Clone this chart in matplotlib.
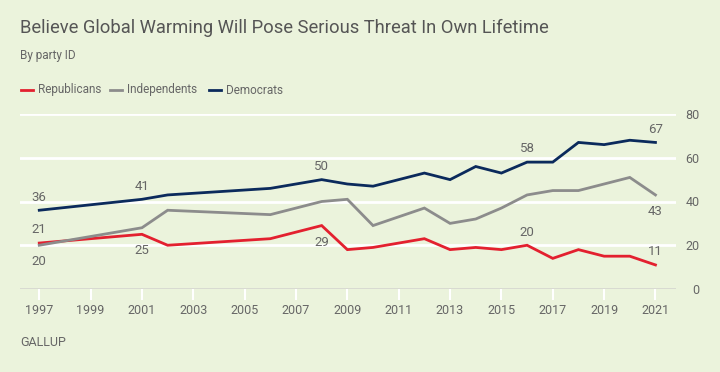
import matplotlib
matplotlib.use("Agg")
import matplotlib.pyplot as plt

plt.rcParams['font.family'] = ['Roboto', 'DejaVu Sans']

years = [1997, 2001, 2002, 2006, 2008, 2009, 2010, 2012, 2013, 2014,
         2015, 2016, 2017, 2018, 2019, 2020, 2021]
republicans = [21, 25, 20, 23, 29, 18, 19, 23, 18, 19, 18, 20, 14, 18, 15, 15, 11]
independents = [20, 28, 36, 34, 40, 41, 29, 37, 30, 32, 37, 43, 45, 45, 48, 51, 43]
democrats = [36, 41, 43, 46, 50, 48, 47, 53, 50, 56, 53, 58, 58, 67, 66, 68, 67]

series_names = ['Republicans', 'Independents', 'Democrats']
# (series, year, above?) for the value labels
labels = [('Democrats', 1997, True), ('Democrats', 2001, True), ('Democrats', 2008, True),
          ('Democrats', 2016, True), ('Democrats', 2021, True),
          ('Independents', 1997, False), ('Independents', 2021, False),
          ('Republicans', 1997, True), ('Republicans', 2001, False), ('Republicans', 2008, False),
          ('Republicans', 2016, True), ('Republicans', 2021, True)]

bg = '#ebf3dc'
colors = {'Republicans': '#e3202f', 'Independents': '#8c8c8c', 'Democrats': '#0b2a5c'}
data = {'Republicans': republicans, 'Independents': independents, 'Democrats': democrats}
txt = '#666666'

fig = plt.figure(figsize=(7.2, 3.72), dpi=100, facecolor=bg)
ax = fig.add_axes([20 / 720, 1 - 289 / 372, 656 / 720, 175 / 372])
ax.set_facecolor(bg)

ax.set_xlim(1996.25, 2021.8)
ax.set_ylim(0, 80)

for y in [20, 40, 60, 80]:
    ax.axhline(y, color='white', lw=2, zorder=1)
ax.axhline(0, color='#d6d8d0', lw=2, zorder=1)

for name in series_names:
    ax.plot(years, data[name], color=colors[name], lw=2, zorder=3,
            solid_joinstyle='miter')

for name, yr, above in labels:
    v = data[name][years.index(yr)]
    off = 9.5 if above else -12
    ax.annotate(str(v), (yr, v), xytext=(0, off), textcoords='offset points',
                ha='center', va='center', fontsize=9.5, color=txt)

for s in ax.spines.values():
    s.set_visible(False)

ax.set_xticks(range(1997, 2022, 2))
ax.tick_params(axis='x', length=8, width=1.5, color='white', pad=3,
               labelsize=9, labelcolor=txt)
ax.yaxis.tick_right()
ax.set_yticks([0, 20, 40, 60, 80])
ax.tick_params(axis='y', length=0, pad=17, labelsize=9, labelcolor=txt)
for t in ax.get_yticklabels():
    t.set_horizontalalignment('right')

fig.text(20 / 720, 1 - 28 / 372, 'Believe Global Warming Will Pose Serious Threat In Own Lifetime',
         fontsize=13.2, color='#555555', va='center', ha='left')
fig.text(20 / 720, 1 - 55 / 372, 'By party ID', fontsize=8.5, color=txt,
         va='center', ha='left')

for name, lx in zip(series_names, [21, 110, 209]):
    fig.add_artist(plt.Line2D([lx / 720, (lx + 12) / 720], [1 - 90 / 372] * 2,
                              color=colors[name], lw=2))
    fig.text((lx + 17) / 720, 1 - 90 / 372, name, fontsize=8.5, color=txt,
             va='center', ha='left')

fig.text(20 / 720, 1 - 342 / 372, 'GALLUP', fontsize=9, color=txt,
         va='center', ha='left')

fig.savefig('out.png', dpi=100, facecolor=bg)
